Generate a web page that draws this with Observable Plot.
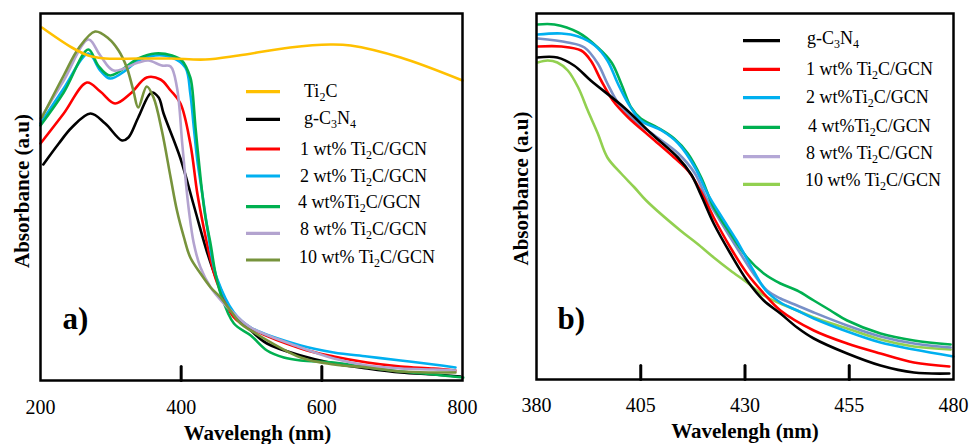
<!DOCTYPE html>
<html><head><meta charset="utf-8">
<script src="https://cdn.jsdelivr.net/npm/d3@7"></script>
<script src="https://cdn.jsdelivr.net/npm/@observablehq/plot@0.6"></script>
<style>
body{margin:0;background:#fff}
#wrap{display:flex;width:969px;height:444px;background:#fff}
</style>
</head><body><div id="wrap"></div>
<script>
// ---------- DATA: panel a (wavelength nm, absorbance a.u.) ----------
const aTi2C = [[202,3.53],[244.5,3.33],[268,3.25],[292,3.22],[339,3.22],[386,3.22],[434,3.21],[481.5,3.25],[555,3.33],[612,3.36],[641,3.35],[712,3.23],[800,3.00]];
const aGCN = [[204,2.16],[226,2.37],[244.5,2.53],[271,2.67],[292,2.57],[316,2.40],[325,2.43],[339,2.63],[358,2.88],[368,2.83],[375,2.67],[399,2.22],[418,1.75],[437,1.28],[451,1.00],[475,0.65],[499,0.50],[522,0.37],[570,0.25],[617,0.17],[664.5,0.12],[712,0.08],[759,0.06],[797,0.04]];
const aW1 = [[200,2.37],[233,2.67],[266,2.98],[285,2.89],[306,2.77],[328,2.87],[351,3.03],[370.6,3.01],[385,2.90],[399,2.77],[413,2.37],[423,1.87],[432,1.53],[442,1.20],[451,0.98],[475,0.63],[499,0.52],[570,0.32],[617,0.24],[664.5,0.18],[712,0.14],[759,0.12],[790,0.10]];
const aW2 = [[200,2.57],[233,2.92],[268,3.27],[285,3.10],[299,3.02],[321,3.10],[339,3.20],[363,3.25],[387,3.23],[406,3.13],[413,2.87],[418,2.53],[423,2.20],[430,1.87],[437,1.53],[444,1.22],[451,1.02],[475,0.68],[499,0.53],[570,0.35],[617,0.28],[664.5,0.24],[712,0.20],[759,0.16],[790,0.13]];
const aW4 = [[200,2.55],[233,2.88],[268,3.31],[282,3.15],[299,3.05],[339,3.22],[363,3.27],[387,3.25],[401,3.20],[413,3.03],[415.6,2.93],[420.4,2.53],[425,2.20],[430,1.87],[434.6,1.63],[441.7,1.37],[448.8,1.07],[456,0.87],[475,0.57],[499,0.45],[522,0.30],[546,0.23],[570,0.20],[617,0.18],[664.5,0.13],[712,0.09],[759,0.06],[801,0.03]];
const aW8 = [[200,2.62],[233,3.00],[268,3.41],[285,3.25],[304,3.10],[339,3.18],[353.6,3.20],[372.5,3.15],[385,3.14],[394,2.93],[401.5,2.37],[406,2.03],[411,1.70],[418,1.37],[427.5,1.13],[442,0.93],[460.6,0.77],[475,0.67],[499,0.53],[570,0.33],[617,0.22],[664.5,0.15],[712,0.12],[759,0.11],[790,0.10]];
const aW10 = [[202,2.63],[233,3.05],[254,3.32],[277.7,3.49],[296.7,3.42],[311,3.30],[322.7,3.13],[332,2.90],[339,2.73],[351,2.94],[360.7,2.83],[372.5,2.50],[385,2.03],[394,1.70],[404,1.43],[413,1.23],[427.5,1.07],[442,0.93],[456,0.83],[470,0.70],[484.5,0.57],[499,0.50],[570,0.23],[617,0.16],[664.5,0.13],[712,0.09],[759,0.08],[790,0.08]];

// ---------- DATA: panel b ----------
const bGCN = [[380.2,3.22],[385,3.22],[389,3.14],[393,2.99],[401,2.72],[407.5,2.46],[413.9,2.22],[417.1,2.05],[419.5,1.84],[422.5,1.56],[426.5,1.26],[430.5,0.99],[434.5,0.79],[438.5,0.66],[442.5,0.52],[446.5,0.41],[454.5,0.26],[462.5,0.14],[470.5,0.07],[479,0.06]];
const bW1 = [[380.3,3.33],[386,3.33],[390.7,3.29],[393,3.19],[395.5,2.99],[398.3,2.79],[402,2.62],[407.5,2.42],[413,2.22],[416.5,2.08],[419.3,1.89],[422.5,1.62],[426.5,1.32],[430.5,1.06],[434.5,0.86],[438.5,0.69],[446.5,0.49],[454.5,0.36],[462.5,0.26],[470.5,0.17],[479,0.13]];
const bW2 = [[380.3,3.45],[386,3.46],[390,3.43],[394,3.34],[397,3.19],[399.5,2.96],[402,2.76],[405,2.59],[410,2.49],[414,2.36],[418,2.12],[421,1.86],[424.5,1.62],[428,1.39],[432,1.09],[435,0.89],[438.5,0.77],[442.5,0.69],[446.5,0.61],[454.5,0.48],[462.5,0.37],[470.5,0.30],[480,0.23]];
const bW4 = [[380.3,3.55],[384.3,3.55],[390,3.47],[394.7,3.32],[398,3.17],[400.3,2.96],[402.7,2.72],[405,2.61],[409,2.52],[413,2.41],[416.3,2.26],[419.5,2.02],[422.5,1.72],[426.5,1.46],[430.5,1.22],[434.5,1.06],[438.5,0.96],[442.5,0.89],[446.5,0.79],[450.5,0.69],[454.5,0.59],[462.5,0.46],[470.5,0.39],[479.3,0.35]];
const bW8 = [[380.3,3.41],[387.5,3.37],[391.5,3.32],[394.7,3.16],[397,2.96],[399.5,2.77],[403.5,2.59],[409,2.42],[414,2.26],[418,2.06],[420.7,1.82],[424,1.59],[428,1.32],[432,1.06],[435.3,0.89],[438.5,0.81],[442.5,0.74],[446.5,0.67],[454.5,0.54],[462.5,0.43],[470.5,0.36],[479.3,0.32]];
const bW10 = [[380.3,3.17],[382.7,3.19],[385,3.17],[387.5,3.09],[390,2.92],[392.3,2.69],[394.7,2.46],[397,2.22],[400.3,2.06],[403.5,1.92],[406.3,1.79],[414.5,1.49],[418.5,1.36],[422.5,1.22],[426.5,1.09],[430.5,0.97],[434.5,0.84],[438.5,0.76],[442.5,0.69],[446.5,0.62],[454.5,0.51],[462.5,0.40],[470.5,0.33],[479.3,0.30]];

// ---------- labels / ticks ----------
const aTickLabels = [200, 400, 600, 800];
const aInnerTicks = [400, 600];
const bTickLabels = [380, 405, 430, 455, 480];
const bInnerTicks = [405, 430, 455];
const aLegendLabels = ["Ti_2C", "g-C_3N_4", "1 wt% Ti_2C/GCN", "2 wt% Ti_2C/GCN", "4 wt%Ti_2C/GCN", "8 wt% Ti_2C/GCN", "10 wt% Ti_2C/GCN"];
const bLegendLabels = ["g-C_3N_4", "1 wt% Ti_2C/GCN", "2 wt%Ti_2C/GCN", "4 wt%Ti_2C/GCN", "8 wt% Ti_2C/GCN", "10 wt% Ti_2C/GCN"];
const xLabel = "Wavelengh (nm)";
const yLabel = "Absorbance (a.u)";

// ---------- styles ----------
const FONT = "'Liberation Serif', 'Times New Roman', serif";
const C = {ti2c:"#FFC000", gcn:"#000000", w1:"#FF0000", w2:"#00B0F0", w4:"#00B050", w8a:"#B3A3CF", w8b:"#7890C8", w8leg:"#B4A7D6", w10a:"#77933C", w10b:"#92D050"};

const tickShape = {draw(ctx, l) { ctx.moveTo(0, 0); ctx.lineTo(0, -l); }};

function line(data, color) {
  return Plot.line(data, {x: d => d[0], y: d => d[1], stroke: color, strokeWidth: 2.6, curve: "catmull-rom"});
}

function panel(opts) {
  return Plot.plot({
    width: opts.width, height: 444,
    marginLeft: opts.ml, marginRight: opts.mr, marginTop: 13, marginBottom: opts.mb,
    style: {fontFamily: FONT, fontSize: "20px", color: "black", background: "white", overflow: "visible"},
    x: {domain: opts.xDomain, ticks: opts.tickLabels, tickSize: 0, tickPadding: opts.tp, label: null, tickFormat: d => String(d)},
    y: {domain: [0, opts.yMax], axis: null},
    marks: [
      ...opts.lines,
      Plot.frame({stroke: "black", strokeWidth: 2.5}),
      Plot.vector(opts.innerTicks, {x: d => d, frameAnchor: "bottom", length: 14, shape: tickShape, anchor: "start", stroke: "black", strokeWidth: 3}),
      Plot.text([opts.tag], {text: d => d, frameAnchor: "bottom-left", dx: opts.tagDx, dy: opts.tagDy, fontSize: 31, fontWeight: "bold", textAnchor: "start", lineAnchor: "bottom"}),
      Plot.text([yLabel], {text: d => d, frameAnchor: "left", rotate: -90, dx: opts.ylDx, dy: opts.ylDy, fontSize: 21, fontWeight: "bold", textAnchor: "middle", lineAnchor: "bottom"}),
      Plot.text([xLabel], {text: d => d, frameAnchor: "bottom", dx: opts.xlDx, dy: opts.xlDy, fontSize: 21, fontWeight: "bold", textAnchor: "middle", lineAnchor: "bottom"})
    ]
  });
}

function addLegend(svg, labels, colors, L) {
  const g = d3.select(svg).append("g").attr("font-family", FONT).attr("font-size", 18)
    .attr("fill", "black").attr("text-anchor", "start");
  labels.forEach((lab, i) => {
    g.append("line").attr("x1", L.x1).attr("x2", L.x2).attr("y1", L.sy[i]).attr("y2", L.sy[i])
      .attr("stroke", colors[i]).attr("stroke-width", 3.2);
    const t = g.append("text").attr("x", L.tx[i]).attr("y", L.ty[i])
      .attr("text-anchor", "start").style("white-space", "pre");
    const parts = lab.split(/_(\d)/);
    let shifted = false;
    parts.forEach((p, j) => {
      if (!p) return;
      const sub = j % 2 === 1;
      const ts = t.append("tspan").text(p);
      if (sub) { ts.attr("font-size", 12); if (!shifted) { ts.attr("dy", 4); shifted = true; } }
      else if (shifted) { ts.attr("dy", -4); shifted = false; }
    });
  });
}

const wrap = document.getElementById("wrap");

const svgA = panel({
  width: 490, ml: 40, mr: 28, mb: 64, xDomain: [200, 800], yMax: 3.67, tp: 19,
  tickLabels: aTickLabels, innerTicks: aInnerTicks,
  lines: [line(aGCN, C.gcn), line(aW1, C.w1), line(aW2, C.w2), line(aW4, C.w4), line(aW8, C.w8a), line(aW10, C.w10a), line(aTi2C, C.ti2c)],
  tag: "a)", tagDx: 22, tagDy: -52,
  ylDx: -12, ylDy: -6, xlDx: 6, xlDy: 59
});
addLegend(svgA, aLegendLabels, [C.ti2c, C.gcn, C.w1, C.w2, C.w4, C.w8a, C.w10a], {
  x1: 246, x2: 280,
  sy: [91.7, 119.3, 149, 176, 206.7, 233.3, 260],
  tx: [304, 304, 300, 300, 298, 300, 299],
  ty: [96.7, 123.5, 155, 181.7, 207.7, 235, 263.3]
});
wrap.appendChild(svgA);

const svgB = panel({
  width: 479, ml: 46, mr: 16, mb: 65, xDomain: [380, 480], yMax: 3.66, tp: 18.5,
  tickLabels: bTickLabels, innerTicks: bInnerTicks,
  lines: [line(bW10, C.w10b), line(bW8, C.w8b), line(bW4, C.w4), line(bW2, C.w2), line(bW1, C.w1), line(bGCN, C.gcn)],
  tag: "b)", tagDx: 21, tagDy: -51,
  ylDx: -8.5, ylDy: -8, xlDx: 0, xlDy: 58
});
addLegend(svgB, bLegendLabels, [C.gcn, C.w1, C.w2, C.w4, C.w8leg, C.w10b], {
  x1: 253, x2: 290,
  sy: [40.7, 69.3, 97.7, 127.3, 156.7, 184.3],
  tx: [317, 316, 316, 318, 316, 315],
  ty: [44, 75, 103.3, 131.7, 159.3, 185.7]
});
wrap.appendChild(svgB);
</script></body></html>
